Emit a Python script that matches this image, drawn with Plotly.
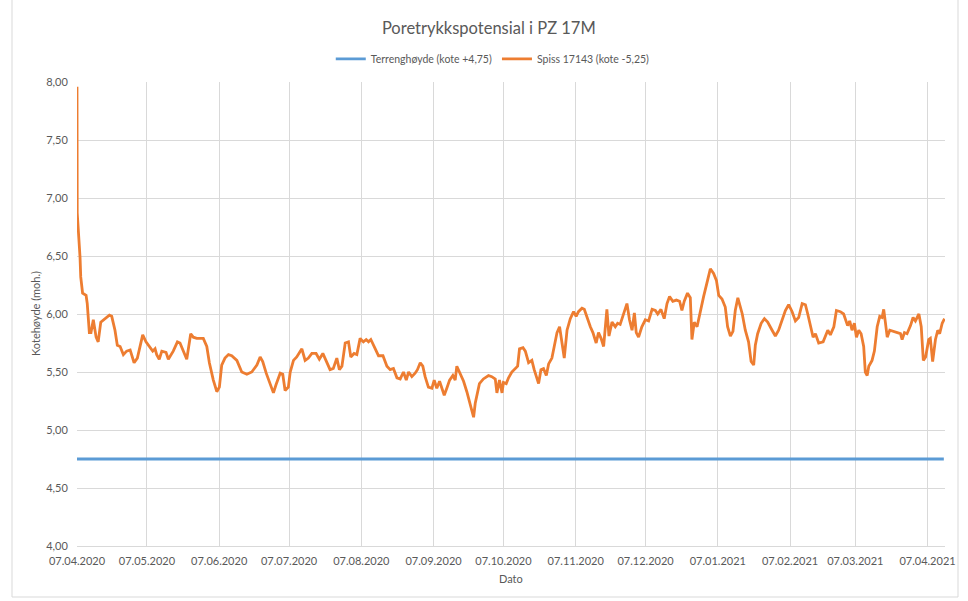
import pandas as pd
import plotly.graph_objects as go

title_text = "Poretrykkspotensial i PZ 17M"
series_terreng = "Terrenghøyde (kote +4,75)"
series_spiss = "Spiss 17143 (kote -5,25)"
y_title = "Kotehøyde (moh.)"
x_title = "Dato"

start_date = "2020-04-07"

# Spiss 17143: days since start date and measured level (moh.)
spiss_days = [
    0.0, 0.1, 1.3, 1.6, 2.4, 3.9, 4.4, 5.3, 6.0, 7.0, 8.2, 9.1, 10.2, 12.0, 13.9, 14.9,
    16.3, 17.3, 18.5, 19.9, 21.3, 22.8, 24.5, 25.9, 27.0, 28.2, 29.6, 31.0, 32.5, 33.5,
    34.2, 35.3, 36.4, 38.2, 39.2, 41.3, 43.1, 44.2, 45.4, 47.1, 48.8, 49.9, 51.4, 54.2,
    55.7, 56.8, 58.5, 60.0, 61.1, 62.1, 63.5, 65.0, 66.4, 68.6, 70.7, 72.9, 75.0, 77.2,
    78.6, 79.7, 81.2, 82.6, 84.3, 85.4, 87.2, 88.3, 89.3, 90.7, 91.5, 92.9, 94.3, 96.5,
    97.9, 99.3, 100.8, 102.6, 104.0, 105.5, 106.9, 108.6, 110.0, 111.5, 112.6, 113.7,
    115.1, 116.5, 117.5, 118.9, 120.1, 121.5, 122.9, 124.1, 125.1, 126.1, 128.0, 129.4,
    131.3, 133.0, 134.4, 135.8, 137.3, 138.7, 140.1, 141.3, 142.3, 143.7, 145.1, 146.1,
    147.3, 148.4, 149.4, 150.8, 152.3, 153.3, 154.4, 155.6, 156.6, 157.6, 158.7, 159.9,
    161.3, 162.3, 163.0, 164.4, 165.9, 167.3, 168.7, 170.2, 170.9, 171.6, 172.7, 174.4,
    176.6, 178.0, 179.5, 180.2, 181.3, 182.4, 183.0, 184.2, 185.2, 186.6, 187.6, 189.1,
    189.9, 191.4, 192.4, 193.8, 195.2, 196.2, 198.1, 199.1, 200.2, 201.4, 202.4, 203.8,
    204.8, 206.0, 207.1, 208.1, 209.1, 210.3, 211.7, 213.1, 214.2, 215.2, 216.7, 217.7,
    219.1, 220.3, 221.4, 222.8, 223.8, 224.9, 226.0, 227.4, 228.3, 229.6, 231.0, 232.0,
    233.1, 234.6, 236.0, 237.1, 238.2, 239.2, 240.0, 241.0, 242.4, 243.9, 245.3, 246.8,
    248.2, 249.2, 250.6, 252.0, 253.2, 254.3, 255.7, 257.2, 258.6, 259.6, 260.6, 262.0,
    263.2, 263.9, 264.9, 266.1, 267.5, 268.9, 270.6, 271.8, 273.2, 274.4, 275.4, 276.8,
    278.2, 279.2, 280.4, 281.5, 282.5, 283.6, 285.5, 286.8, 288.2, 289.3, 290.4, 291.1,
    292.1, 293.6, 295.0, 296.4, 298.3, 299.7, 301.1, 302.6, 304.0, 305.4, 306.9, 308.3,
    309.7, 311.2, 312.6, 313.6, 314.7, 315.9, 316.9, 318.3, 320.2, 321.2, 322.2, 323.3,
    324.8, 325.9, 327.6, 329.0, 329.7, 330.7, 331.6, 332.6, 333.6, 334.5, 335.5, 336.5,
    337.6, 338.3, 339.1, 339.8, 341.2, 342.2, 343.4, 344.5, 345.5, 346.2, 346.9, 347.7,
    348.8, 350.5, 351.9, 353.4, 354.1, 355.1, 356.2, 357.7, 358.8, 359.8, 361.3, 362.3,
    363.2, 364.2, 365.5, 366.2, 367.2, 368.4, 369.4, 370.2, 371.3, 372.3,
]
spiss_values = [
    7.96, 6.87, 6.49, 6.32, 6.18, 6.16, 6.09, 5.84, 5.84, 5.95, 5.80, 5.76, 5.93, 5.96, 5.99, 5.98,
    5.86, 5.73, 5.72, 5.65, 5.68, 5.69, 5.58, 5.62, 5.73, 5.82, 5.76, 5.72, 5.68, 5.70,
    5.65, 5.61, 5.68, 5.67, 5.61, 5.68, 5.76, 5.75, 5.69, 5.61, 5.83, 5.80, 5.79, 5.79,
    5.72, 5.58, 5.43, 5.33, 5.37, 5.56, 5.62, 5.65, 5.64, 5.60, 5.50, 5.48, 5.50, 5.56,
    5.63, 5.59, 5.49, 5.42, 5.32, 5.39, 5.49, 5.48, 5.34, 5.37, 5.50, 5.60, 5.63, 5.70,
    5.60, 5.62, 5.66, 5.66, 5.61, 5.66, 5.60, 5.52, 5.53, 5.62, 5.52, 5.55,
    5.75, 5.76, 5.63, 5.66, 5.65, 5.79, 5.76, 5.78, 5.76, 5.78, 5.70, 5.64,
    5.64, 5.55, 5.52, 5.53, 5.45, 5.44, 5.50, 5.43, 5.50, 5.46, 5.49, 5.52,
    5.58, 5.55, 5.46, 5.37, 5.36, 5.43, 5.36, 5.42, 5.36, 5.30, 5.36, 5.43,
    5.47, 5.43, 5.55, 5.49, 5.42, 5.33, 5.23, 5.11, 5.23, 5.29, 5.40, 5.44,
    5.47, 5.46, 5.44, 5.32, 5.43, 5.32, 5.41, 5.40, 5.45, 5.50, 5.52, 5.55,
    5.70, 5.71, 5.68, 5.58, 5.60, 5.52, 5.40, 5.52, 5.53, 5.47, 5.57, 5.62,
    5.72, 5.84, 5.89, 5.76, 5.62, 5.86, 5.96, 6.02, 5.98, 6.02, 6.05, 6.04,
    5.95, 5.89, 5.84, 5.75, 5.84, 5.79, 5.72, 6.04, 5.81, 5.93, 5.89, 5.92,
    5.91, 6.00, 6.09, 5.95, 5.86, 6.01, 5.84, 5.80, 5.89, 5.95, 5.94, 6.04,
    6.03, 6.00, 6.04, 5.96, 6.09, 6.15, 6.11, 6.12, 6.11, 6.03, 6.11, 6.18,
    6.14, 5.78, 5.93, 5.89, 6.03, 6.15, 6.29, 6.39, 6.35, 6.29, 6.16, 6.13,
    6.06, 5.89, 5.81, 5.85, 6.03, 6.14, 6.00, 5.86, 5.76, 5.59, 5.56, 5.73,
    5.83, 5.92, 5.96, 5.93, 5.86, 5.81, 5.86, 5.94, 6.03, 6.08, 6.02, 5.94,
    5.97, 6.09, 6.08, 6.00, 5.89, 5.80, 5.83, 5.75, 5.76, 5.82, 5.86, 5.82,
    5.89, 6.03, 6.02, 6.00, 5.96, 5.90, 5.94, 5.86, 5.92, 5.80, 5.86, 5.83,
    5.72, 5.50, 5.47, 5.55, 5.60, 5.68, 5.89, 5.98, 5.97, 6.04, 5.93, 5.80,
    5.86, 5.85, 5.84, 5.83, 5.78, 5.84, 5.83, 5.90, 5.97, 5.94, 6.00, 5.89,
    5.60, 5.63, 5.78, 5.79, 5.59, 5.78, 5.86, 5.83, 5.92, 5.96,
]

# Terrain level (constant)
terreng_dates = ["2020-04-07", "2021-04-14"]
terreng_values = [4.75, 4.75]

tick_dates = [
    "2020-04-07", "2020-05-07", "2020-06-07", "2020-07-07", "2020-08-07", "2020-09-07",
    "2020-10-07", "2020-11-07", "2020-12-07", "2021-01-07", "2021-02-07", "2021-03-07",
    "2021-04-07",
]
tick_labels = [
    "07.04.2020", "07.05.2020", "07.06.2020", "07.07.2020", "07.08.2020", "07.09.2020",
    "07.10.2020", "07.11.2020", "07.12.2020", "07.01.2021", "07.02.2021", "07.03.2021",
    "07.04.2021",
]
y_ticks = [4.0, 4.5, 5.0, 5.5, 6.0, 6.5, 7.0, 7.5, 8.0]

spiss_dates = pd.Timestamp(start_date) + pd.to_timedelta(spiss_days, unit="D")

FONT = "Lato, 'Open Sans', sans-serif"
TXT = "#595959"
GRID = "#d9d9d9"

fig = go.Figure()
fig.add_trace(go.Scatter(
    x=terreng_dates, y=terreng_values, mode="lines", name=series_terreng,
    line=dict(color="#5B9BD5", width=2.8),
))
fig.add_trace(go.Scatter(
    x=spiss_dates, y=spiss_values, mode="lines", name=series_spiss,
    line=dict(color="#ED7D31", width=2.8),
))

fig.update_layout(
    width=968, height=601,
    margin=dict(l=77, r=23, t=82, b=55, autoexpand=False),
    paper_bgcolor="white", plot_bgcolor="white",
    separators=", ",
    font=dict(family=FONT, size=11, color=TXT),
    title=dict(text=title_text, x=0.505, xanchor="center", y=1 - 28 / 601,
               yanchor="middle", yref="container",
               font=dict(family=FONT, size=16.5, color=TXT)),
    legend=dict(orientation="h", x=0.479, xanchor="center", y=1.05, yanchor="middle",
                font=dict(family=FONT, size=10.5, color=TXT), itemwidth=30,
                traceorder="normal", tracegroupgap=0),
    showlegend=True,
)
fig.update_xaxes(
    type="date", range=["2020-04-07", "2021-04-14 12:00"], automargin=False,
    tickmode="array", tickvals=tick_dates, ticktext=tick_labels,
    showgrid=True, gridcolor=GRID, gridwidth=1,
    showline=True, linecolor=GRID, linewidth=1,
    ticks="outside", ticklen=5, tickcolor="rgba(0,0,0,0)",
    zeroline=False, tickfont=dict(family=FONT, size=11, color=TXT),
)
fig.update_yaxes(
    range=[4.0, 8.0], tickmode="array", tickvals=y_ticks, tickformat=".2f",
    automargin=False,
    showgrid=True, gridcolor=GRID, gridwidth=1,
    showline=False, zeroline=False,
    ticks="outside", ticklen=6, tickcolor="rgba(0,0,0,0)",
    tickfont=dict(family=FONT, size=11, color=TXT),
)
fig.add_annotation(text=y_title, xref="paper", yref="paper", x=(35 - 77) / 868, y=0.5,
                   textangle=-90, showarrow=False, xanchor="center", yanchor="middle",
                   font=dict(family=FONT, size=11, color=TXT))
fig.add_annotation(text=x_title, xref="paper", yref="paper", x=0.5, y=(546 - 578) / 464,
                   showarrow=False, xanchor="center", yanchor="middle",
                   font=dict(family=FONT, size=11, color=TXT))
# chart frame
fig.add_shape(type="rect", xref="paper", yref="paper",
              x0=(12 - 77) / 868, x1=(958 - 77) / 868,
              y0=(546 - 597) / 464, y1=(546 - (-5)) / 464,
              line=dict(color=GRID, width=1), layer="below")

fig.write_html("out.html", config={"displayModeBar": False},
               post_script="document.body.style.margin='0px';document.body.style.padding='0px';")
